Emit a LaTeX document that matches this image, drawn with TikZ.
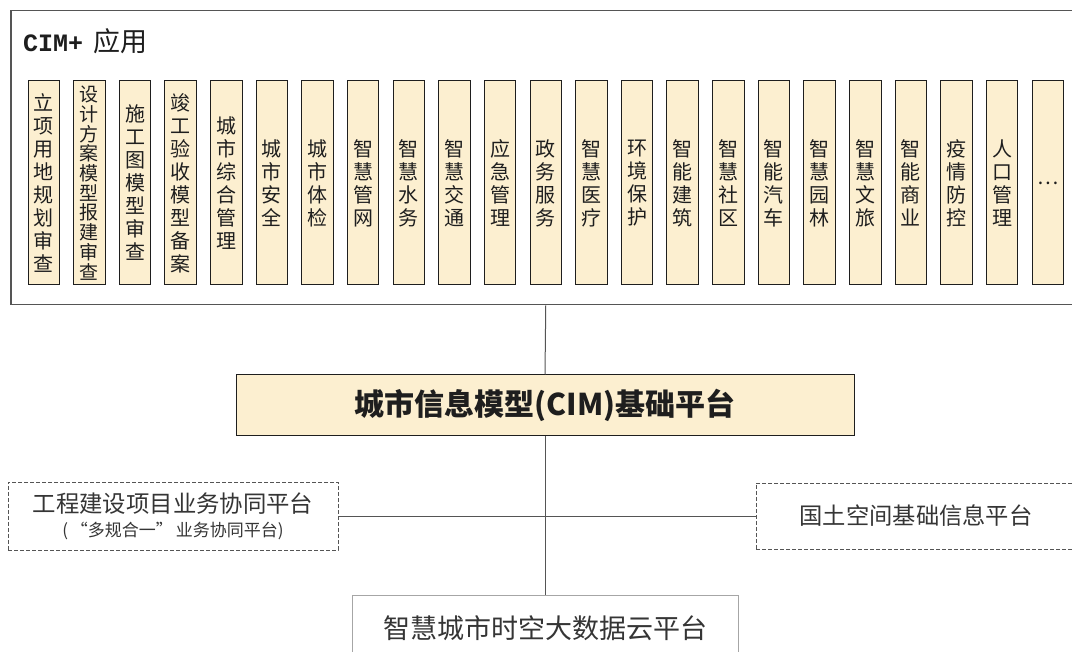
\documentclass[tikz,border=0pt]{standalone}
\usepackage{fontspec}
\newfontfamily\cjk{Noto Sans CJK SC}
\newfontfamily\monof{Liberation Mono}
\definecolor{boxfill}{HTML}{FCEFD0}
\definecolor{linegray}{HTML}{555555}
\definecolor{txt}{HTML}{1E1E1E}
\begin{document}
\begin{tikzpicture}[x=1pt,y=-1pt,
  col/.style={draw=txt, line width=1pt, fill=boxfill, minimum width=31.5pt,
    minimum height=204pt, inner sep=0pt, align=center, text=txt,
    font=\cjk\fontsize{20}{23}\selectfont},
  dashbox/.style={draw=linegray, line width=0.9pt, dash pattern=on 4pt off 2pt,
    inner sep=0pt, align=center, text=txt!90!white},
  conn/.style={draw=linegray, line width=1pt}]
\useasboundingbox (0,0) rectangle (1072,652);
\clip (0,0) rectangle (1072,652);
\fill[white] (0,0) rectangle (1072,652);

% outer application frame
\node[draw=linegray, line width=1.5pt, minimum width=1070pt, minimum height=294pt,
  inner sep=0pt, anchor=north west] (app) at (10,10) {};
\node[anchor=west, inner sep=0pt, text=txt] (title) at (23,41)
  {\monof\bfseries\fontsize{25}{30}\selectfont CIM+\hspace{10pt}\cjk\mdseries\fontsize{27}{30}\selectfont 应用};

% application columns
\foreach \t [count=\i from 0] in {
  {立\\项\\用\\地\\规\\划\\审\\查},
  {设\\计\\方\\案\\模\\型\\报\\建\\审\\查},
  {施\\工\\图\\模\\型\\审\\查},
  {竣\\工\\验\\收\\模\\型\\备\\案},
  {城\\市\\综\\合\\管\\理},
  {城\\市\\安\\全},
  {城\\市\\体\\检},
  {智\\慧\\管\\网},
  {智\\慧\\水\\务},
  {智\\慧\\交\\通},
  {应\\急\\管\\理},
  {政\\务\\服\\务},
  {智\\慧\\医\\疗},
  {环\\境\\保\\护},
  {智\\能\\建\\筑},
  {智\\慧\\社\\区},
  {智\\能\\汽\\车},
  {智\\慧\\园\\林},
  {智\\慧\\文\\旅},
  {智\\能\\商\\业},
  {疫\\情\\防\\控},
  {人\\口\\管\\理},
  {…}}
{
  \ifnum\i=1
    \node[col, font=\cjk\fontsize{19}{19.7}\selectfont] (c\i) at ({43.75+45.64*\i},183) {\t};
  \else
    \node[col] (c\i) at ({43.75+45.64*\i},183) {\t};
  \fi
}

% CIM base platform
\node[draw=txt, line width=1pt, fill=boxfill, minimum width=618pt, minimum height=61pt,
  inner sep=0pt, text=txt, font=\cjk\bfseries\fontsize{30}{36}\selectfont]
  (cim) at (545,405.5) {城市信息模型(CIM)基础平台};

% side platforms
\node[dashbox, minimum width=330pt, minimum height=68pt] (proj) at (173,516)
  {\cjk\fontsize{23.4}{27}\selectfont 工程建设项目业务协同平台\\[7pt]
   \cjk\fontsize{17}{20}\selectfont (\,“多规合一”\,业务协同平台)};
\node[dashbox, minimum width=320pt, minimum height=66pt,
  font=\cjk\fontsize{23.3}{27}\selectfont] (land) at (916,516) {国土空间基础信息平台};

% cloud platform
\node[draw=black!35, line width=1pt, minimum width=386pt, minimum height=70pt,
  inner sep=0pt, text=txt!90!white] (cloud) at (545,630) {};
\node[inner sep=0pt, text=txt!90!white, font=\cjk\fontsize{27}{30}\selectfont]
  (cloudtxt) at (545,628) {智慧城市时空大数据云平台};

% connectors
\draw[conn] (app.south) -- (cim.north);
\draw[conn] (cim.south) -- (cloud.north);
\draw[conn] (proj.east) -- (land.west);
\end{tikzpicture}
\end{document}
